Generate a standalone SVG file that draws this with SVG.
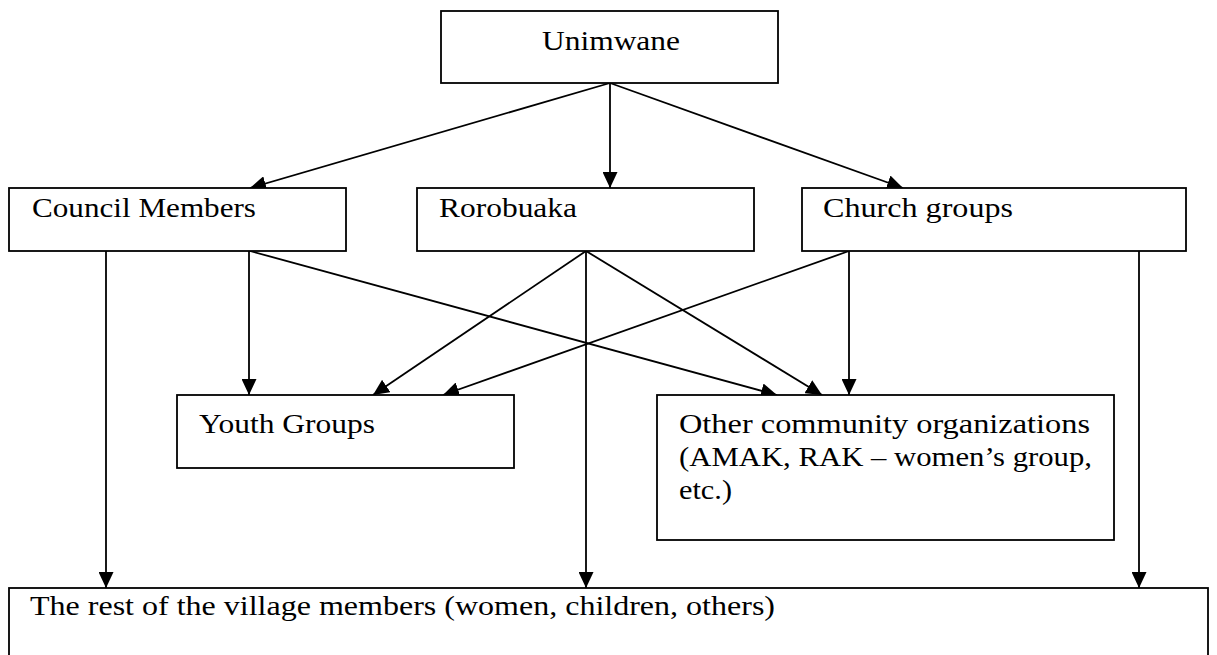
<svg xmlns="http://www.w3.org/2000/svg" width="1217" height="655" viewBox="0 0 1217 655">
  <style>
    .box { fill: #ffffff; stroke: #000000; stroke-width: 1.8; }
    .lbl { font-family: "Liberation Serif", "DejaVu Serif", serif; font-size: 28px; fill: #000000; }
    .edge { fill: none; stroke: #000000; stroke-width: 1.8; marker-end: url(#arrow); }
  </style>
  <defs>
    <marker id="arrow" viewBox="0 0 16 15" refX="16" refY="7.5" markerWidth="16" markerHeight="15" markerUnits="userSpaceOnUse" orient="auto">
      <path d="M0,0 L16,7.5 L0,15 Z" fill="#000000"/>
    </marker>
  </defs>
  <rect width="1217" height="655" fill="#ffffff"/>

  <g id="connectors">
    <!-- from Unimwane -->
    <line class="edge" x1="610" y1="83" x2="250" y2="188"/>
    <line class="edge" x1="610" y1="83" x2="610" y2="188"/>
    <line class="edge" x1="610" y1="83" x2="903" y2="188"/>
    <!-- from Council Members -->
    <line class="edge" x1="106" y1="251" x2="106" y2="588"/>
    <line class="edge" x1="249" y1="251" x2="249" y2="395"/>
    <line class="edge" x1="250" y1="251" x2="777" y2="395"/>
    <!-- from Rorobuaka -->
    <line class="edge" x1="586" y1="251" x2="373" y2="395"/>
    <line class="edge" x1="586" y1="251" x2="586" y2="588"/>
    <line class="edge" x1="586" y1="251" x2="822" y2="395"/>
    <!-- from Church groups -->
    <line class="edge" x1="849" y1="251" x2="443" y2="395"/>
    <line class="edge" x1="849" y1="251" x2="849" y2="395"/>
    <line class="edge" x1="1139" y1="251" x2="1139" y2="588"/>
  </g>

  <g id="unimwane">
    <rect class="box" x="441" y="11" width="337" height="72"/>
    <text class="lbl" x="611" y="50" text-anchor="middle" textLength="138" lengthAdjust="spacingAndGlyphs">Unimwane</text>
  </g>
  <g id="council-members">
    <rect class="box" x="9" y="188" width="337" height="63"/>
    <text class="lbl" x="32" y="217" textLength="224" lengthAdjust="spacingAndGlyphs">Council Members</text>
  </g>
  <g id="rorobuaka">
    <rect class="box" x="417" y="188" width="337" height="63"/>
    <text class="lbl" x="439" y="217" textLength="138" lengthAdjust="spacingAndGlyphs">Rorobuaka</text>
  </g>
  <g id="church-groups">
    <rect class="box" x="802" y="188" width="384" height="63"/>
    <text class="lbl" x="823" y="217" textLength="190" lengthAdjust="spacingAndGlyphs">Church groups</text>
  </g>
  <g id="youth-groups">
    <rect class="box" x="177" y="395" width="337" height="73"/>
    <text class="lbl" x="199" y="433" textLength="176" lengthAdjust="spacingAndGlyphs">Youth Groups</text>
  </g>
  <g id="other-organizations">
    <rect class="box" x="657" y="395" width="457" height="145"/>
    <text class="lbl" x="679" y="433" textLength="411" lengthAdjust="spacingAndGlyphs">Other community organizations</text>
    <text class="lbl" x="679" y="466" textLength="413" lengthAdjust="spacingAndGlyphs">(AMAK, RAK – women’s group,</text>
    <text class="lbl" x="679" y="499" textLength="53" lengthAdjust="spacingAndGlyphs">etc.)</text>
  </g>
  <g id="village-members">
    <rect class="box" x="9" y="588" width="1199" height="80"/>
    <text class="lbl" x="30" y="615" textLength="745" lengthAdjust="spacingAndGlyphs">The rest of the village members (women, children, others)</text>
  </g>
</svg>
